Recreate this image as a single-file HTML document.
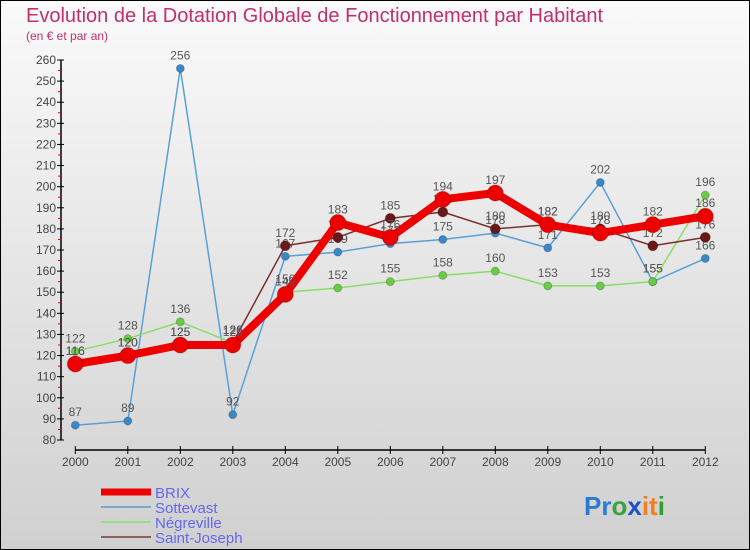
<!DOCTYPE html>
<html><head><meta charset="utf-8"><style>
body{margin:0}
#wrap{width:750px;height:550px;position:relative;box-sizing:border-box;border:1px solid #000;background:linear-gradient(#fafafa,#d0d0d0);font-family:"Liberation Sans",sans-serif;overflow:hidden}
</style></head><body>
<div id="wrap">
<svg id="svg" width="750" height="550" style="position:absolute;left:-1px;top:-1px">
<text x="26" y="22" font-size="20" fill="#c0306a">Evolution de la Dotation Globale de Fonctionnement par Habitant</text>
<text x="26" y="40" font-size="12" fill="#c0306a">(en € et par an)</text>
<g id="axes"></g><g id="series"></g><g id="legend"></g>
<text x="584" y="515" font-size="26" font-weight="bold"><tspan fill="#2a7ad0">Pr</tspan><tspan fill="#3aa040">o</tspan><tspan fill="#2050c0">x</tspan><tspan fill="#f08020">it</tspan><tspan fill="#30a030">i</tspan></text>
</svg></div>
<script>
const years=[2000,2001,2002,2003,2004,2005,2006,2007,2008,2009,2010,2011,2012];
const brix=[116,120,125,125,149,183,176,194,197,182,178,182,186];
const sottevast=[87,89,256,92,167,169,173,175,178,171,202,155,166];
const negreville=[122,128,136,126,150,152,155,158,160,153,153,155,196];
const stjoseph=[116,120,125,126,172,176,185,188,180,182,180,172,176];
const yTicks=[80,90,100,110,120,130,140,150,160,170,180,190,200,210,220,230,240,250,260];
const NS="http://www.w3.org/2000/svg";
const X=i=>75.3+i*52.5, Y=v=>440-(v-80)*380/180;
function mk(t,a,p){const e=document.createElementNS(NS,t);for(const k in a)e.setAttribute(k,a[k]);p.appendChild(e);return e;}
const ax=document.getElementById('axes');
let l=mk('line',{x1:61,y1:Y(260),x2:61,y2:Y(80),stroke:'#000','stroke-width':1.5},ax);

l=mk('line',{x1:X(0),y1:450,x2:X(12),y2:450,stroke:'#000','stroke-width':1.5},ax);

yTicks.forEach((v,i)=>{
 mk('line',{x1:57,x2:64,y1:Y(v),y2:Y(v),stroke:'#000'},ax);
 if(i<yTicks.length-1)mk('line',{x1:58,x2:61,y1:Y(v+5),y2:Y(v+5),stroke:'#e00'},ax);
 const t=mk('text',{x:56,y:Y(v)+4,'text-anchor':'end','font-size':12,fill:'#444'},ax);t.textContent=v;
 
});
years.forEach((y,i)=>{
 mk('line',{x1:X(i),x2:X(i),y1:446,y2:454,stroke:'#000'},ax);
 const t=mk('text',{x:X(i),y:466,'text-anchor':'middle','font-size':12,fill:'#444'},ax);t.textContent=y;
 
});
const S=document.getElementById('series');
const defs=[['sottevast',sottevast,'#5aa0d8',1.5,4,'#3a88c8'],['negreville',negreville,'#88dd66',1.5,4,'#6acc44'],['saint-joseph',stjoseph,'#7a3030',1.5,5,'#6a1818'],['brix',brix,'#ee0000',8,8,'#ee0000']];
defs.forEach(([n,d,c,w,r,mc])=>{
 const g=mk('g',{},S);
 const p=mk('polyline',{points:d.map((v,i)=>X(i)+','+Y(v)).join(' '),fill:'none',stroke:c,'stroke-width':w,'stroke-linejoin':'round'},g);
 
 d.forEach((v,i)=>{
  const m=mk('circle',{cx:X(i),cy:Y(v),r:r,fill:mc,stroke:'rgba(0,0,0,0.2)'},g);
  
  const t=mk('text',{x:X(i),y:Y(v)-9,'text-anchor':'middle','font-size':12,fill:'#555'},g);t.textContent=v;
  
 });
});
const L=document.getElementById('legend');
[['BRIX','#ee0000',7],['Sottevast','#7aa8cc',2],['Négreville','#99dd88',2],['Saint-Joseph','#8a6060',2]].forEach(([n,c,w],i)=>{
 const y=492+i*15;
 const g=mk('g',{},L);
 mk('line',{x1:101,x2:151,y1:y,y2:y,stroke:c,'stroke-width':w},g);
 const t=mk('text',{x:155,y:y+6,'font-size':15,fill:'#6666ee'},g);t.textContent=n;
});
</script></body></html>
